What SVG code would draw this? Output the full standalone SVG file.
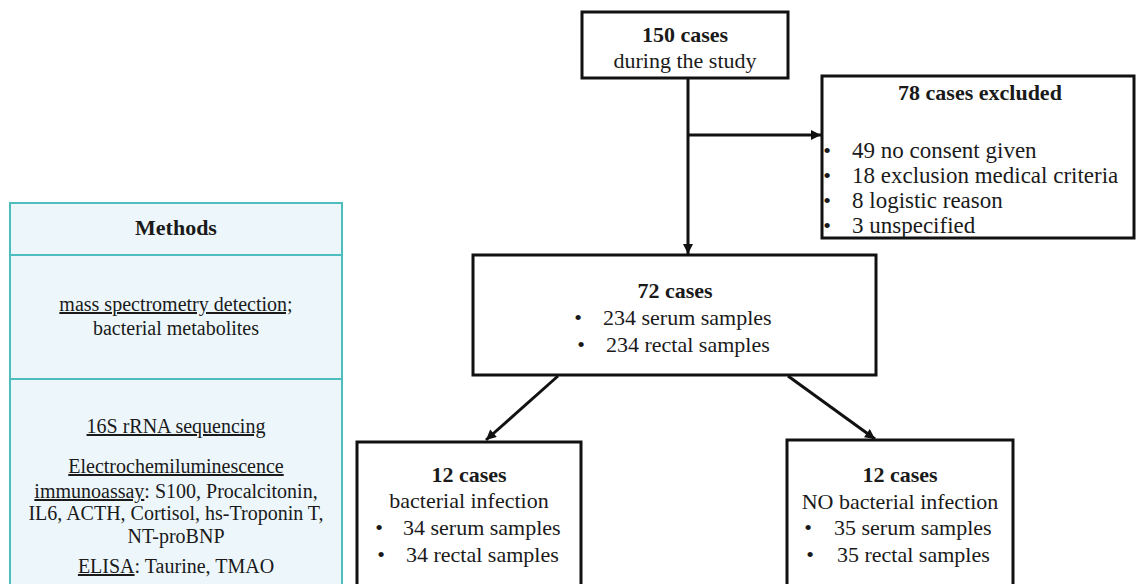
<svg xmlns="http://www.w3.org/2000/svg" width="1137" height="584" viewBox="0 0 1137 584" font-family="'Liberation Serif', Tinos, 'Times New Roman', 'DejaVu Serif', serif">
<defs>
<marker id="ah" viewBox="0 0 10 10" refX="10" refY="5" markerWidth="11" markerHeight="10" markerUnits="userSpaceOnUse" orient="auto">
<path d="M0,0 L10,5 L0,10 z" fill="#111"/>
</marker>
<style>
.box{fill:#fff;stroke:#111;stroke-width:3}
.mbox{fill:#edf7fb;stroke:#4dbdbd;stroke-width:2}
.div{stroke:#4dbdbd;stroke-width:2}
.t{font-family:'Liberation Serif', Tinos, 'Times New Roman', 'DejaVu Serif', serif;font-size:22px;fill:#1a1a1a}
.c{text-anchor:middle}
.b{font-weight:bold}
.m{font-size:20px}
.l{font-size:23px}
.u{text-decoration:underline}
.con{stroke:#111;stroke-width:3;fill:none;marker-end:url(#ah)}
</style>
</defs>
<rect width="1137" height="584" fill="#fff"/>

<g id="methods">
<rect class="mbox" x="10" y="203" width="332" height="400"/>
<line class="div" x1="10" y1="255" x2="342" y2="255"/>
<line class="div" x1="10" y1="379" x2="342" y2="379"/>
<text class="t c b" x="176" y="235">Methods</text>
<text class="t c m" x="176" y="311"><tspan class="u">mass spectrometry detection;</tspan></text>
<text class="t c m" x="176" y="335">bacterial metabolites</text>
<text class="t c m" x="176" y="433"><tspan class="u">16S rRNA sequencing</tspan></text>
<text class="t c m" x="176" y="473"><tspan class="u">Electrochemiluminescence</tspan></text>
<text class="t c m" x="176" y="498"><tspan class="u">immunoassay</tspan>: S100, Procalcitonin,</text>
<text class="t c m" x="176" y="520">IL6, ACTH, Cortisol, hs-Troponin T,</text>
<text class="t c m" x="176" y="543">NT-proBNP</text>
<text class="t c m" x="176" y="573"><tspan class="u">ELISA</tspan>: Taurine, TMAO</text>
</g>

<g id="connectors">
<line class="con" x1="688" y1="78" x2="688" y2="254"/>
<line class="con" x1="688" y1="135" x2="821" y2="135"/>
<line class="con" x1="558" y1="376" x2="486" y2="440"/>
<line class="con" x1="788" y1="376" x2="875" y2="439"/>
</g>

<g id="start">
<rect class="box" x="582" y="12" width="206" height="66"/>
<text class="t c b" x="685" y="42">150 cases</text>
<text class="t c" x="685" y="68">during the study</text>
</g>

<g id="excluded">
<rect class="box" x="822" y="76" width="312" height="162"/>
<text class="t c b" x="980" y="100">78 cases excluded</text>
<text class="t c" x="827" y="158">•</text>
<text class="t l" x="852" y="158">49 no consent given</text>
<text class="t c" x="827" y="183">•</text>
<text class="t l" x="852" y="183">18 exclusion medical criteria</text>
<text class="t c" x="827" y="208">•</text>
<text class="t l" x="852" y="208">8 logistic reason</text>
<text class="t c" x="827" y="233">•</text>
<text class="t l" x="852" y="233">3 unspecified</text>
</g>

<g id="cohort">
<rect class="box" x="473" y="255" width="403" height="120"/>
<text class="t c b" x="675" y="298">72 cases</text>
<text class="t c" x="578" y="325">•</text>
<text class="t" x="603" y="325">234 serum samples</text>
<text class="t c" x="581" y="352">•</text>
<text class="t" x="606" y="352">234 rectal samples</text>
</g>

<g id="infection">
<rect class="box" x="357" y="442" width="224" height="200"/>
<text class="t c b" x="469" y="482">12 cases</text>
<text class="t c" x="469" y="508">bacterial infection</text>
<text class="t c" x="379" y="535">•</text>
<text class="t" x="403" y="535">34 serum samples</text>
<text class="t c" x="381" y="562">•</text>
<text class="t" x="406" y="562">34 rectal samples</text>
</g>

<g id="no-infection">
<rect class="box" x="787" y="440" width="226" height="200"/>
<text class="t c b" x="900" y="482">12 cases</text>
<text class="t c" x="900" y="509">NO bacterial infection</text>
<text class="t c" x="808" y="535">•</text>
<text class="t" x="834" y="535">35 serum samples</text>
<text class="t c" x="810" y="562">•</text>
<text class="t" x="837" y="562">35 rectal samples</text>
</g>
</svg>
